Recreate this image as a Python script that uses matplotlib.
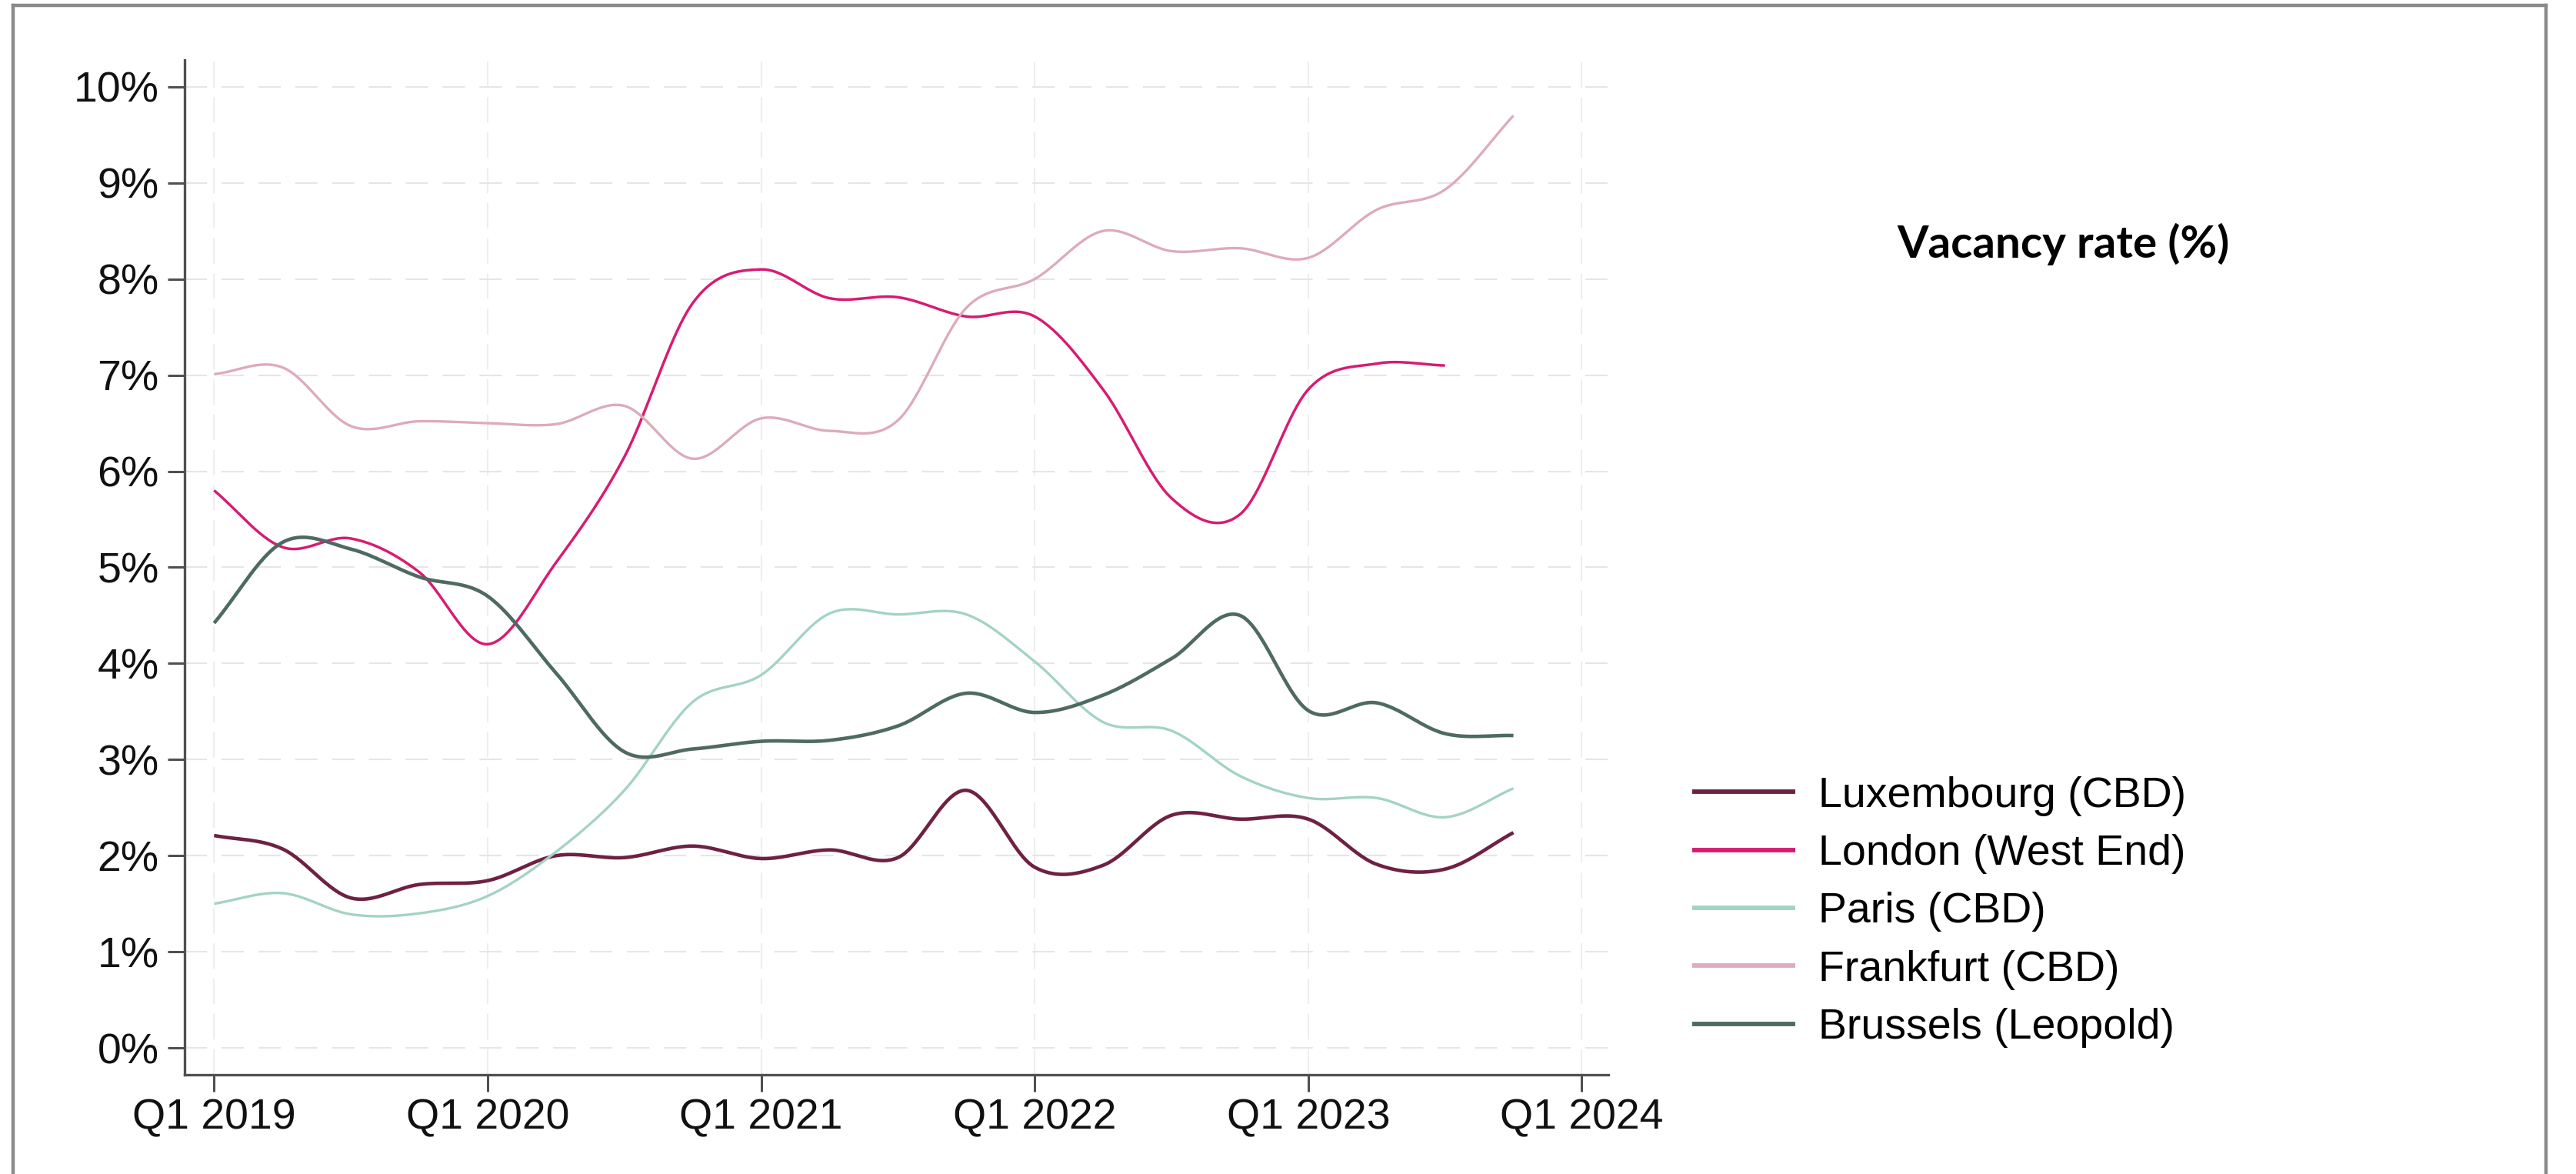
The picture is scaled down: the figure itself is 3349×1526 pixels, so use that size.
import numpy as np
import matplotlib
matplotlib.use('Agg')
import matplotlib.pyplot as plt
from matplotlib.lines import Line2D

# quarterly vacancy rates (%), Q1 2019 .. Q4 2023
quarters = [f'Q{q} {y}' for y in range(2019, 2024) for q in range(1, 5)]
luxembourg = [2.21, 2.07, 1.56, 1.70, 1.74, 2.00, 1.98, 2.10, 1.97, 2.06,
              1.98, 2.68, 1.88, 1.90, 2.42, 2.38, 2.38, 1.91, 1.86, 2.24]
london = [5.80, 5.21, 5.30, 4.95, 4.20, 5.05, 6.15, 7.75, 8.10, 7.80,
          7.81, 7.61, 7.61, 6.85, 5.72, 5.55, 6.85, 7.12, 7.10]
paris = [1.50, 1.61, 1.39, 1.40, 1.58, 2.04, 2.68, 3.60, 3.88, 4.52,
         4.51, 4.51, 4.02, 3.39, 3.30, 2.83, 2.60, 2.60, 2.40, 2.70]
frankfurt = [7.01, 7.08, 6.47, 6.52, 6.50, 6.49, 6.68, 6.13, 6.55, 6.42,
             6.53, 7.70, 8.00, 8.50, 8.29, 8.32, 8.22, 8.72, 8.93, 9.70]
brussels = [4.42, 5.26, 5.19, 4.90, 4.70, 3.90, 3.08, 3.11, 3.19, 3.20,
            3.35, 3.69, 3.49, 3.67, 4.05, 4.50, 3.51, 3.59, 3.27, 3.25]

names = ['Luxembourg (CBD)', 'London (West End)', 'Paris (CBD)',
         'Frankfurt (CBD)', 'Brussels (Leopold)']
colors = ['#6e2143', '#d81b72', '#a3d3c3', '#ddabb9', '#4e6a62']
widths = [3.3, 2.5, 2.4, 2.4, 3.3]

tick_pos = [0, 4, 8, 12, 16, 20]
tick_labels = ['Q1 2019', 'Q1 2020', 'Q1 2021', 'Q1 2022', 'Q1 2023', 'Q1 2024']


def smooth(y, n=30):
    """cubic hermite (catmull-rom) curve through the quarterly points"""
    y = np.asarray(y, float)
    m = np.empty_like(y)
    m[1:-1] = (y[2:] - y[:-2]) / 2
    m[0] = y[1] - y[0]
    m[-1] = y[-1] - y[-2]
    t = np.linspace(0, 1, n, endpoint=False)
    h00 = 2*t**3 - 3*t**2 + 1
    h10 = t**3 - 2*t**2 + t
    h01 = -2*t**3 + 3*t**2
    h11 = t**3 - t**2
    xs, ys = [], []
    for i in range(len(y) - 1):
        xs.append(i + t)
        ys.append(h00*y[i] + h10*m[i] + h01*y[i+1] + h11*m[i+1])
    xs.append([len(y) - 1])
    ys.append([y[-1]])
    return np.concatenate(xs), np.concatenate(ys)


plt.rcParams['font.family'] = ['Liberation Sans', 'DejaVu Sans']

fig = plt.figure(figsize=(33.49, 15.26), dpi=100)
ax = fig.add_axes([0.0717, 0.0845, 0.5527, 0.8645])

for data, name, c, lw in zip([luxembourg, london, paris, frankfurt, brussels],
                             names, colors, widths):
    xs, ys = smooth(data)
    ax.plot(xs, ys, color=c, lw=lw, label=name, solid_capstyle='butt')

ax.set_xlim(-0.43, 20.39)
ax.set_ylim(-0.28, 10.28)
ax.set_xticks(tick_pos)
ax.set_xticklabels(tick_labels)
ax.set_yticks(range(0, 11))
ax.set_yticklabels([f'{v}%' for v in range(0, 11)])

ax.yaxis.grid(True, color='#e6e6e6', lw=1.5, ls=(0, (14, 9)))
ax.xaxis.grid(True, color='#eeeeee', lw=1.5, ls=(0, (16, 6)))
ax.set_axisbelow(True)

for s in ['top', 'right']:
    ax.spines[s].set_visible(False)
for s in ['left', 'bottom']:
    ax.spines[s].set_color('#505050')
    ax.spines[s].set_linewidth(2.4)
ax.tick_params(axis='both', which='major', length=16, width=2.2,
               color='#505050', labelsize=40, labelcolor='#111111')
ax.tick_params(axis='y', pad=8)
ax.tick_params(axis='x', pad=6)

leg = fig.legend(loc='upper left', bbox_to_anchor=(0.657, 0.339),
                 bbox_transform=fig.transFigure, frameon=False,
                 fontsize=40, handlelength=2.4, handletextpad=0.55,
                 labelspacing=0.42, borderpad=0, borderaxespad=0)
for h in leg.get_lines():
    h.set_linewidth(4.2)

fig.text(0.801, 0.7805, 'Vacancy rate (%)', fontsize=42, fontweight='bold',
         family=['Lato', 'DejaVu Sans'], ha='center', va='baseline')

# grey frame round the picture (open at the bottom)
frame = dict(color='#8a8a8a', lw=3.2, transform=fig.transFigure)
fig.add_artist(Line2D([0.0051, 0.0051], [0, 0.9954], **frame))
fig.add_artist(Line2D([0.0051, 0.9883], [0.9954, 0.9954], **frame))
fig.add_artist(Line2D([0.9883, 0.9883], [0, 0.9954], **frame))

fig.savefig('out.png', dpi=100)
